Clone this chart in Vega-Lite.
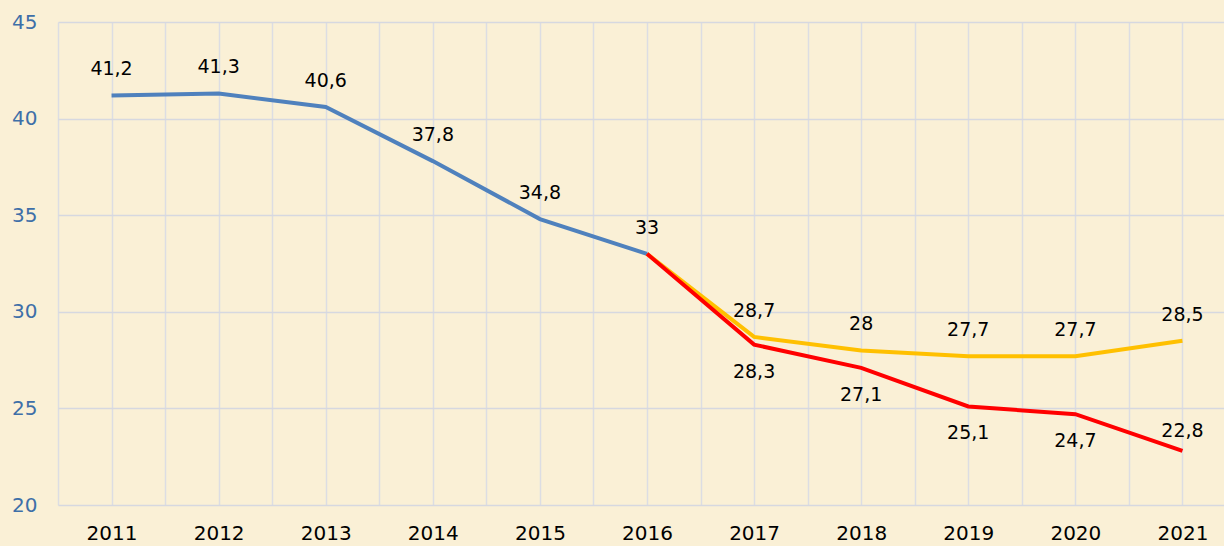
{
  "$schema": "https://vega.github.io/schema/vega-lite/v6.json",
  "autosize": "none",
  "width": 1178,
  "height": 483,
  "padding": {"left": 58, "top": 22, "right": 0, "bottom": 41},
  "background": "#faf0d6",
  "config": {
    "view": {"stroke": null},
    "font": "DejaVu Sans"
  },
  "data": {
    "values": [
      {"year": 2011, "value": 41.2, "series": "blue"},
      {"year": 2012, "value": 41.3, "series": "blue"},
      {"year": 2013, "value": 40.6, "series": "blue"},
      {"year": 2014, "value": 37.8, "series": "blue"},
      {"year": 2015, "value": 34.8, "series": "blue"},
      {"year": 2016, "value": 33, "series": "blue"},
      {"year": 2016, "value": 33, "series": "yellow"},
      {"year": 2017, "value": 28.7, "series": "yellow"},
      {"year": 2018, "value": 28, "series": "yellow"},
      {"year": 2019, "value": 27.7, "series": "yellow"},
      {"year": 2020, "value": 27.7, "series": "yellow"},
      {"year": 2021, "value": 28.5, "series": "yellow"},
      {"year": 2016, "value": 33, "series": "red"},
      {"year": 2017, "value": 28.3, "series": "red"},
      {"year": 2018, "value": 27.1, "series": "red"},
      {"year": 2019, "value": 25.1, "series": "red"},
      {"year": 2020, "value": 24.7, "series": "red"},
      {"year": 2021, "value": 22.8, "series": "red"}
    ]
  },
  "transform": [
    {"calculate": "replace(format(datum.value, '.3~g'), '.', ',')", "as": "label"}
  ],
  "encoding": {
    "x": {
      "field": "year", "type": "quantitative",
      "scale": {"domain": [2010.5, 2021.5], "nice": false, "zero": false},
      "axis": {
        "title": null,
        "values": [2010.5, 2011, 2011.5, 2012, 2012.5, 2013, 2013.5, 2014, 2014.5, 2015, 2015.5, 2016, 2016.5, 2017, 2017.5, 2018, 2018.5, 2019, 2019.5, 2020, 2020.5, 2021, 2021.5],
        "labelExpr": "datum.value % 1 === 0 ? toString(datum.value) : ''",
        "grid": true, "gridColor": "#dcdde3", "gridWidth": 1.5,
        "domain": false, "ticks": false,
        "labelFont": "DejaVu Sans",
        "labelFontSize": 20, "labelColor": "#000000", "labelPadding": 18,
        "labelFlush": false
      }
    },
    "y": {
      "field": "value", "type": "quantitative",
      "scale": {"domain": [20, 45], "nice": false, "zero": false},
      "axis": {
        "title": null,
        "values": [20, 25, 30, 35, 40, 45],
        "grid": true, "gridColor": "#d6d8e0", "gridWidth": 1.5,
        "domain": false, "ticks": false,
        "labelFont": "DejaVu Sans",
        "labelFontSize": 20, "labelColor": "#3e6fa8", "labelPadding": 21
      }
    }
  },
  "layer": [
    {
      "transform": [{"filter": "datum.series === 'blue'"}],
      "mark": {"type": "line", "stroke": "#4f81bd", "strokeWidth": 4}
    },
    {
      "transform": [{"filter": "datum.series === 'yellow'"}],
      "mark": {"type": "line", "stroke": "#ffc000", "strokeWidth": 4}
    },
    {
      "transform": [{"filter": "datum.series === 'red'"}],
      "mark": {"type": "line", "stroke": "#ff0000", "strokeWidth": 4}
    },
    {
      "transform": [{"filter": "datum.series === 'blue' || (datum.series === 'yellow' && datum.year > 2016)"}],
      "mark": {"type": "text", "font": "DejaVu Sans", "fontSize": 19, "color": "#000000", "dy": -26, "baseline": "middle"},
      "encoding": {"text": {"field": "label"}}
    },
    {
      "transform": [{"filter": "datum.series === 'red' && datum.year > 2016 && datum.year < 2021"}],
      "mark": {"type": "text", "font": "DejaVu Sans", "fontSize": 19, "color": "#000000", "dy": 27, "baseline": "middle"},
      "encoding": {"text": {"field": "label"}}
    },
    {
      "transform": [{"filter": "datum.series === 'red' && datum.year === 2021"}],
      "mark": {"type": "text", "font": "DejaVu Sans", "fontSize": 19, "color": "#000000", "dy": -20, "baseline": "middle"},
      "encoding": {"text": {"field": "label"}}
    }
  ]
}
